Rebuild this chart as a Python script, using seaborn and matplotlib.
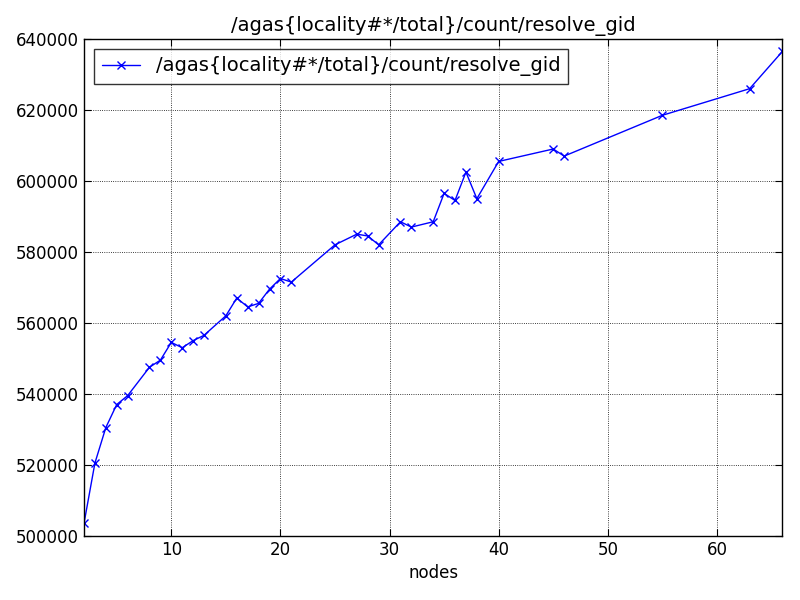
import matplotlib
matplotlib.use("Agg")
import matplotlib.pyplot as plt
import seaborn as sns
import pandas as pd

nodes = [2,3,4,5,6,8,9,10,11,12,13,15,16,17,18,19,20,21,25,27,28,29,31,32,34,35,36,37,38,40,45,46,55,63,66]
counts = [503500,520500,530500,537000,539500,547500,549500,554500,553000,555000,556500,562000,567000,564500,565500,569500,572500,571500,582000,585000,584500,582000,588500,587000,588500,596500,594500,602500,595000,605500,609000,607000,618500,626000,636500]
label = "/agas{locality#*/total}/count/resolve_gid"

sns.set_style("white")
plt.rcParams['font.family'] = ['DejaVu Sans']
plt.rcParams['text.color'] = 'black'
plt.rcParams['axes.labelcolor'] = 'black'
plt.rcParams['xtick.color'] = 'black'
plt.rcParams['ytick.color'] = 'black'
df = pd.DataFrame({"nodes": nodes, "count": counts})
fig, ax = plt.subplots(figsize=(8, 6), dpi=100)
sns.lineplot(data=df, x="nodes", y="count", ax=ax, color="blue", marker="x",
             markersize=6, markeredgecolor="blue", markeredgewidth=1, linewidth=1, label=label)
ax.set_xlim(2, 66)
ax.set_ylim(500000, 640000)
ax.set_xticks([10,20,30,40,50,60])
ax.set_yticks(range(500000, 640001, 20000))
ax.grid(True, color="black", linestyle=":", linewidth=0.6)
for s in ax.spines.values():
    s.set_color("black"); s.set_linewidth(1)
ax.tick_params(direction="in", length=5, labelsize=12, colors="black", top=True, right=True, bottom=True, left=True)
ax.set_xlabel("nodes", fontsize=12, color="black")
ax.set_ylabel("")
ax.set_title(label, fontsize=14, color="black")
leg = ax.legend(loc="upper left", fontsize=14, frameon=True, fancybox=False)
leg.get_frame().set_edgecolor("black")
leg.get_frame().set_linewidth(1)
for t in leg.get_texts():
    t.set_color("black")
fig.subplots_adjust(left=0.105, right=0.978, top=0.935, bottom=0.107)
fig.savefig("out.png", dpi=100)
